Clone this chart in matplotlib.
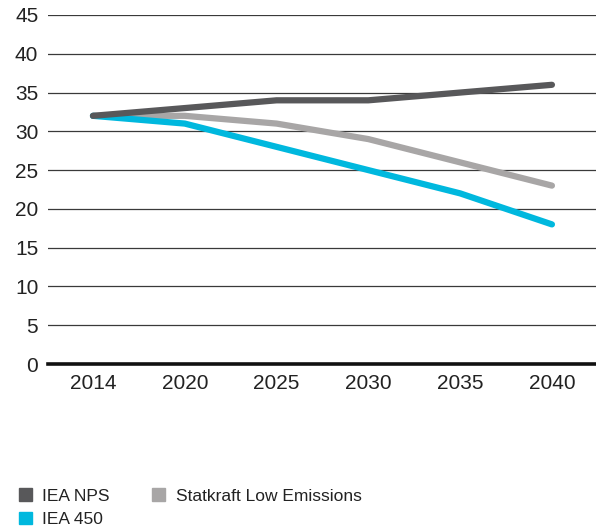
import matplotlib.pyplot as plt
from matplotlib.patches import Patch

plt.rcParams['font.family'] = ['Liberation Sans', 'DejaVu Sans']

years = ['2014', '2020', '2025', '2030', '2035', '2040']
iea_nps = [32, 33, 34, 34, 35, 36]
statkraft_low = [32, 32, 31, 29, 26, 23]
iea_450 = [32, 31, 28, 25, 22, 18]

c_nps = '#58585a'
c_stat = '#a8a6a6'
c_450 = '#00b8de'

fig = plt.figure(figsize=(5.96, 5.29), dpi=100)
ax = fig.add_axes([48 / 596, 1 - 364 / 529, 1 - 48 / 596, 349 / 529])

x = list(range(len(years)))
for yv in range(5, 50, 5):
    ax.axhline(yv, color='#3a3a3a', lw=0.9, zorder=1)
ax.axhline(0, color='#111111', lw=2.6, zorder=4, clip_on=False)

ax.plot(x, statkraft_low, color=c_stat, lw=4.5, solid_capstyle='round', solid_joinstyle='round', zorder=3)
ax.plot(x, iea_450, color=c_450, lw=4.5, solid_capstyle='round', solid_joinstyle='round', zorder=3)
ax.plot(x, iea_nps, color=c_nps, lw=4.5, solid_capstyle='round', solid_joinstyle='round', zorder=3)

ax.set_xlim(-0.49, 5.48)
ax.set_ylim(0, 45)
ax.set_yticks(range(0, 50, 5))
ax.set_xticks(x)
ax.set_xticklabels(years)
ax.tick_params(axis='both', length=0, labelsize=15, colors='#222222')
ax.tick_params(axis='y', pad=7)
ax.tick_params(axis='x', pad=7)
for s in ax.spines.values():
    s.set_visible(False)

handles = [Patch(color=c_nps, label='IEA NPS'),
           Patch(color=c_450, label='IEA 450'),
           Patch(color=c_stat, label='Statkraft Low Emissions')]
fig.legend(handles=handles, ncol=2, loc='lower left', bbox_to_anchor=(0.005, -0.026),
           frameon=False, fontsize=12.5, handlelength=0.75, handleheight=0.75,
           handletextpad=0.6, columnspacing=2.45, labelspacing=0.45,
           labelcolor='#222222')

fig.savefig('out.png', dpi=100)
